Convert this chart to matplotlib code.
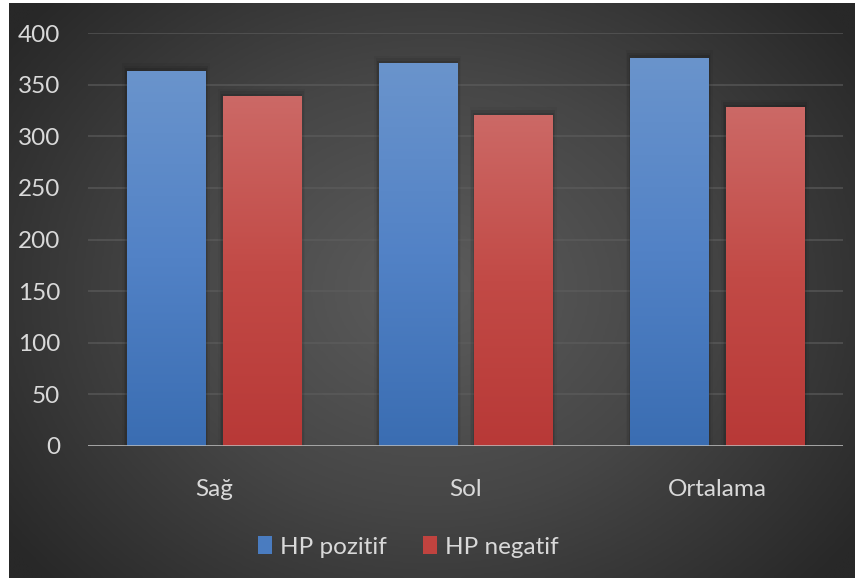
import numpy as np
import matplotlib
matplotlib.use("Agg")
import matplotlib.pyplot as plt
from matplotlib.colors import LinearSegmentedColormap
from matplotlib.patches import Rectangle

plt.rcParams['font.family'] = ['Lato', 'DejaVu Sans']

categories = ["Sağ", "Sol", "Ortalama"]
series_names = ["HP pozitif", "HP negatif"]
hp_pozitif = [363.5, 370.5, 376.0]
hp_negatif = [338.5, 320.5, 328.0]
y_ticks = [0, 50, 100, 150, 200, 250, 300, 350, 400]

W, H = 855, 578
fig = plt.figure(figsize=(W / 100, H / 100), dpi=100)
fig.patch.set_facecolor("white")

# radial dark background
bg = fig.add_axes([9 / W, 0, (W - 9) / W, (H - 3) / H])
bg.set_axis_off()
yy, xx = np.mgrid[0:1:300j, 0:1:400j]
r = np.sqrt(((xx - 0.5) / 0.62) ** 2 + ((yy - 0.5) / 0.75) ** 2)
r = np.clip(r, 0, 1)
bg_cmap = LinearSegmentedColormap.from_list("bg", ["#5c5c5c", "#464646", "#282828"])
bg.imshow(r, cmap=bg_cmap, aspect="auto", extent=(0, 1, 0, 1), interpolation="bilinear")
bg.set_xlim(0, 1)
bg.set_ylim(0, 1)

ax = fig.add_axes([88 / W, (H - 446) / H, (843 - 88) / W, (446 - 33) / H])
ax.patch.set_alpha(0)
ax.set_xlim(-0.5, 2.5)
ax.set_ylim(0, 400)

for s in ax.spines.values():
    s.set_visible(False)

FS = 17.5
ax.set_yticks(y_ticks)
ax.set_yticklabels([str(t) for t in y_ticks])
ax.yaxis.grid(True, color="#5e5e5e", linewidth=1.2, alpha=0.7)
ax.set_axisbelow(True)
ax.tick_params(axis="y", length=0, pad=20, labelsize=FS, labelcolor="#d9d9d9")
ax.set_xticks(range(len(categories)))
ax.set_xticklabels(categories)
ax.tick_params(axis="x", length=0, pad=24, labelsize=FS, labelcolor="#d9d9d9")
ax.axhline(0, color="#bfbfbf", linewidth=1.8, zorder=5)

width = 0.31
offset = 0.19
x = np.arange(len(categories))

blue_cmap = LinearSegmentedColormap.from_list("blue", ["#3a6db2", "#5282c6", "#6a94cc"])
red_cmap = LinearSegmentedColormap.from_list("red", ["#b83937", "#c24a46", "#cc6966"])
grad = np.linspace(0, 1, 256).reshape(-1, 1)

def gradient_bars(xpos, values, cmap, color, label):
    bars = ax.bar(xpos, values, width, color=color, label=label, zorder=3, linewidth=0)
    for b in bars:
        x0, y0 = b.get_x(), b.get_y()
        w, h = b.get_width(), b.get_height()
        # soft drop shadow
        for k, a in enumerate([0.10, 0.07, 0.04]):
            d = 0.006 * (k + 1)
            sh = Rectangle((x0 - d, y0), w + 2 * d, h + 2.5 * (k + 1),
                           facecolor="black", alpha=a, linewidth=0, zorder=2)
            ax.add_patch(sh)
        im = ax.imshow(grad, cmap=cmap, origin="lower", aspect="auto",
                       extent=(x0, x0 + w, y0, y0 + h), zorder=3.5,
                       interpolation="bilinear")
        im.set_clip_path(b)
    return bars

gradient_bars(x - offset, hp_pozitif, blue_cmap, "#4a7cc0", series_names[0])
gradient_bars(x + offset, hp_negatif, red_cmap, "#c0433f", series_names[1])
ax.set_xlim(-0.5, 2.5)
ax.set_ylim(0, 400)

leg = fig.legend(loc="center", bbox_to_anchor=(408 / W, 1 - 547 / H), ncol=2,
                 frameon=False, fontsize=FS, labelcolor="#d9d9d9",
                 handlelength=0.6, handleheight=0.7, handletextpad=0.3,
                 columnspacing=1.5)

fig.savefig("out.png", dpi=100, facecolor=fig.get_facecolor())
